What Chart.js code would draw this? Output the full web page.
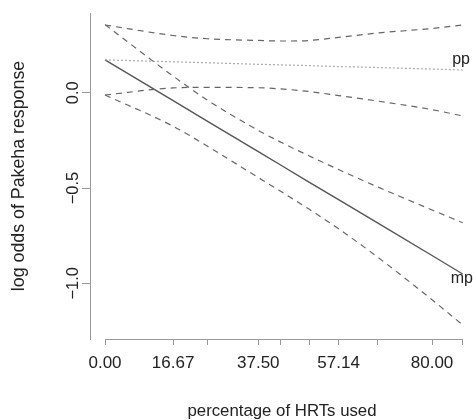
<!DOCTYPE html>
<html>
<head>
<meta charset="utf-8">
<script src="https://cdn.jsdelivr.net/npm/chart.js@4.4.0/dist/chart.umd.min.js"></script>
<style>
  body { margin: 0; background: #fff; }
  canvas { display: block; }
</style>
</head>
<body>
<canvas id="myChart" width="474" height="420"></canvas>
<script>
const xValues = [0, 16.67, 25, 37.5, 42.86, 50, 57.14, 66.67, 80, 87.5]
const xTickLabels = { 0: '0.00', 16.67: '16.67', 37.5: '37.50', 57.14: '57.14', 80: '80.00' }
const yTicks = [-1, -0.5, 0]
const yTickLabels = ['\u22121.0', '\u22120.5', '0.0']

const mpFit = [0.172, -0.042, -0.149, -0.309, -0.378, -0.470, -0.561, -0.683, -0.854, -0.951]
const mpUpper = [0.357, 0.087, -0.038, -0.198, -0.258, -0.332, -0.403, -0.494, -0.615, -0.682]
const mpLower = [-0.012, -0.176, -0.28, -0.445, -0.516, -0.612, -0.714, -0.862, -1.086, -1.218]

const ppFit = [0.172, 0.162, 0.157, 0.149, 0.146, 0.142, 0.137, 0.132, 0.124, 0.119]
const ppUpper = [0.355, 0.300, 0.283, 0.274, 0.271, 0.274, 0.290, 0.313, 0.337, 0.355]
const ppLower = [-0.012, 0.025, 0.028, 0.026, 0.02, 0.006, -0.015, -0.044, -0.089, -0.122]

const curveLabels = ['pp', 'mp']
const curveLabelX = [87.1, 87.3]
const curveLabelY = [0.151, -0.998]

const FONT = 'Liberation Sans, Arial, Helvetica, sans-serif'
const AXIS = '#999'
const TEXT = '#222'

const pts = (ys) => xValues.map((x, i) => ({ x: x, y: ys[i] }))

const band = (ys) => ({
    data: pts(ys),
    borderColor: '#666',
    borderWidth: 1.2,
    borderDash: [6, 5],
    pointRadius: 0,
    cubicInterpolationMode: 'monotone',
    fill: false,
})

// x axis line only spans the data, and the curve labels
const extras = {
    id: 'extras',
    afterDraw(chart) {
        const ctx = chart.ctx
        const xs = chart.scales.x
        const ys = chart.scales.y
        const y0 = chart.chartArea.bottom + 0.5
        ctx.save()
        ctx.strokeStyle = AXIS
        ctx.lineWidth = 1
        ctx.beginPath()
        ctx.moveTo(xs.getPixelForValue(xValues[0]), y0)
        ctx.lineTo(xs.getPixelForValue(xValues[xValues.length - 1]), y0)
        ctx.stroke()

        ctx.fillStyle = TEXT
        ctx.font = '16px ' + FONT
        ctx.textAlign = 'center'
        ctx.textBaseline = 'alphabetic'
        curveLabels.forEach((t, i) => {
            ctx.fillText(t, xs.getPixelForValue(curveLabelX[i]), ys.getPixelForValue(curveLabelY[i]))
        })
        ctx.restore()
    }
}

const ctx = document.getElementById('myChart')

new Chart(ctx, {
    type: 'line',
    data: {
        datasets: [
            band(ppUpper),
            band(ppLower),
            band(mpUpper),
            band(mpLower),
            {
                data: pts(ppFit),
                borderColor: '#aaa',
                borderWidth: 1.2,
                borderDash: [2, 2],
                pointRadius: 0,
                fill: false,
            },
            {
                data: pts(mpFit),
                borderColor: '#555',
                borderWidth: 1.4,
                pointRadius: 0,
                fill: false,
            },
        ],
    },
    options: {
        responsive: false,
        animation: false,
        devicePixelRatio: 1,
        layout: { padding: { top: 13, right: 0, bottom: 0, left: 0 } },
        plugins: { legend: { display: false }, tooltip: { enabled: false } },
        scales: {
            x: {
                type: 'linear',
                min: -3.67,
                max: 90.27,
                afterBuildTicks: (scale) => { scale.ticks = xValues.map(v => ({ value: v })) },
                afterFit: (scale) => { scale.height = 81 },
                ticks: {
                    autoSkip: false,
                    maxRotation: 0,
                    padding: 7.8,
                    color: TEXT,
                    font: { family: FONT, size: 17 },
                    callback: (v) => xTickLabels[v] || '',
                },
                grid: { drawOnChartArea: false, drawTicks: true, tickLength: 6, color: AXIS },
                border: { display: false },
                title: {
                    display: true,
                    text: 'percentage of HRTs used',
                    color: TEXT,
                    font: { family: FONT, size: 16.8 },
                    padding: { top: 0, bottom: -1 },
                },
            },
            y: {
                min: -1.292,
                max: 0.418,
                afterBuildTicks: (scale) => { scale.ticks = yTicks.map(v => ({ value: v })) },
                afterFit: (scale) => { scale.width = 90 },
                ticks: {
                    minRotation: 90,
                    maxRotation: 90,
                    crossAlign: 'center',
                    padding: -7.3,
                    color: TEXT,
                    font: { family: FONT, size: 16.5 },
                    callback: (v) => yTickLabels[yTicks.indexOf(v)],
                },
                grid: { drawOnChartArea: false, drawTicks: true, tickLength: 8, color: AXIS },
                border: { display: true, color: AXIS, width: 1 },
                title: {
                    display: true,
                    text: 'log odds of Pakeha response',
                    color: TEXT,
                    font: { family: FONT, size: 17.8 },
                    padding: { top: 8.3, bottom: 0 },
                },
            },
        },
    },
    plugins: [extras],
})
</script>
</body>
</html>
